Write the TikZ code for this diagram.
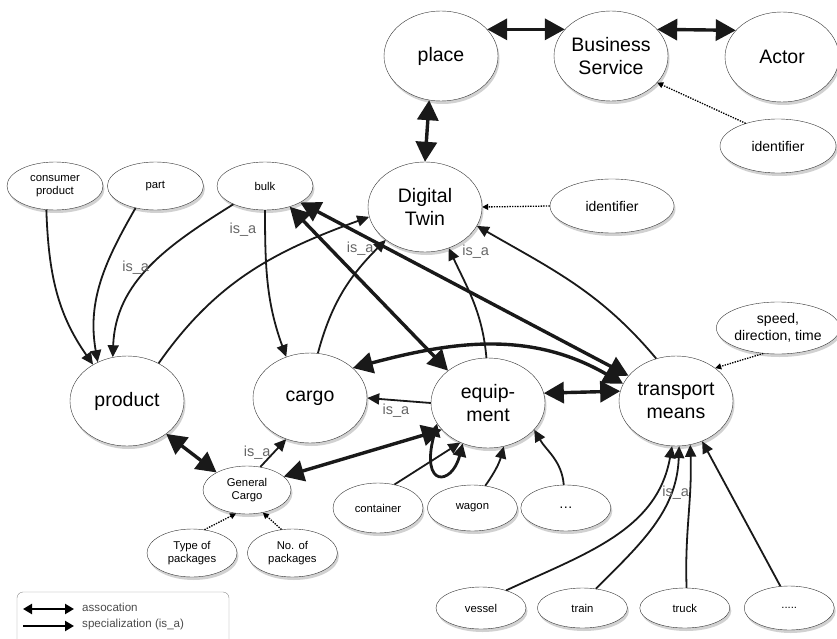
\documentclass[tikz,border=0pt]{standalone}
\usepackage{fontspec}
\setmainfont{Liberation Sans}
\usetikzlibrary{arrows.meta,positioning,shapes.geometric,shadows}

\begin{document}
\begin{tikzpicture}[x=1pt,y=-1pt,
  el/.style={ellipse,draw=black!80,fill=white,inner sep=0pt,align=center,
    drop shadow={shadow xshift=1.5pt,shadow yshift=-3pt,opacity=.3,fill=black!60}},
  big/.style={el,minimum width=114pt,minimum height=90pt,font=\fontsize{19.5}{23}\selectfont},
  att/.style={el,minimum width=116pt,minimum height=54pt,font=\fontsize{14}{16.5}\selectfont},
  sm/.style={el,minimum width=90pt,minimum height=48pt,font=\fontsize{11.3}{13.5}\selectfont},
  assoc/.style={{Triangle[length=20pt,width=21pt]}-{Triangle[length=20pt,width=21pt]},line width=3.4pt,black!90},
  isa/.style={-{Triangle[length=12pt,width=11pt]},line width=1.8pt,black!90},
  attr/.style={-{Triangle[length=6pt,width=6pt]},line width=1.3pt,dash pattern=on 1.4pt off 1.2pt},
  lbl/.style={font=\fontsize{14.5}{15}\selectfont,text=black!60,inner sep=1pt},
  legassoc/.style={{Triangle[length=9pt,width=10pt]}-{Triangle[length=9pt,width=10pt]},line width=2.4pt},
  legisa/.style={-{Triangle[length=9pt,width=10pt]},line width=2.4pt},
  legtxt/.style={font=\fontsize{11.6}{13}\selectfont,text=black!70,inner sep=0pt,anchor=west}]
  \useasboundingbox (0,0) rectangle (837,639);
  \node[big] (pl) at (441,56) {place};
  \node[big] (bs) at (611,56) {Business\\Service};
  \node[big] (act) at (782,57) {Actor};
  \node[att] (id2) at (778,146) {identifier};
  \node[big] (dt) at (425,207) {Digital\\Twin};
  \node[att,minimum width=124pt] (id1) at (612,206) {identifier};
  \node[sm,minimum width=96pt] (cp) at (55,186) {consumer\\product};
  \node[sm,minimum width=96pt,right=4pt of cp] (prt) {part};
  \node[sm,minimum width=96pt] (blk) at (265,186) {bulk};
  \node[big] (prd) at (127,401) {product};
  \node[big] (crg) at (310,398) {cargo};
  \node[big] (eqp) at (488,403) {equip-\\ment};
  \node[big] (tm) at (676,401) {transport\\means};
  \node[att,minimum height=52pt] (spd) at (778,328) {speed,\\direction, time};
  \node[sm,minimum width=88pt] (gc) at (247,490) {General\\Cargo};
  \node[sm] (top) at (192,553) {Type of\\packages};
  \node[sm,right=10pt of top] (nop) {No. of\\packages};
  \node[sm,minimum height=50pt] (cnt) at (378,508) {container};
  \node[sm,minimum height=46pt,right=4pt of cnt] (wag) {wagon};
  \node[sm,minimum height=46pt,right=3pt of wag,font=\fontsize{14}{16}\selectfont] (edt) {\dots};
  \node[sm,minimum height=42pt] (ves) at (481,608) {vessel};
  \node[sm,minimum height=40pt,right=11pt of ves] (trn) {train};
  \node[sm,minimum height=40pt,right=12pt of trn] (trk) {truck};
  \node[sm,minimum height=44pt,right=14pt of trk] (tdt) {.....};
  \draw[assoc] (pl.30) -- (bs.150);
  \draw[assoc] (bs.30) -- (act.150);
  \draw[assoc] (pl.255) -- (dt.north);
  \draw[attr] (id2.145) -- (bs.-30);
  \draw[attr] (id1.west) -- (dt.east);
  \draw[isa] (cp.250) to[out=-88,in=125] (prd.133);
  \draw[isa] (prt.228) to[out=-120,in=100] (prd.127);
  \draw[isa] (blk.-150) to[out=-148,in=88] node[lbl,pos=.5,left=-1pt] {is\_a} (prd.108);
  \draw[isa] (blk.south) to[out=-90,in=110] node[lbl,pos=.12,left=7pt] {is\_a} (crg.120);
  \draw[isa] (prd.50) to[out=55,in=-160] (dt.190);
  \draw[isa] (crg.80) to[out=75,in=-135] node[lbl,pos=.92,left=2pt] {is\_a} (dt.220);
  \draw[isa] (eqp.92) to[out=95,in=-65] node[lbl,pos=.97,right=10pt] {is\_a} (dt.-60);
  \draw[isa] (tm.115) to[out=130,in=-30] (dt.-20);
  \draw[assoc] (blk.-40) -- (eqp.141);
  \draw[assoc] (blk.-25) -- (tm.152);
  \draw[assoc] (crg.35) to[out=15,in=150] (tm.162);
  \draw[assoc] (eqp.10) -- (tm.170);
  \draw[isa] (eqp.west) -- node[lbl,below=2pt,xshift=-3pt] {is\_a} (crg.east);
  \draw[isa] (gc.60) -- node[lbl,left=1pt] {is\_a} (crg.-120);
  \draw[assoc] (prd.-40) -- (gc.150);
  \draw[assoc] (eqp.-150) -- (gc.20);
  \draw[assoc,{Triangle[length=13pt,width=13pt]}-{Triangle[length=13pt,width=13pt]},line width=2.8pt]
    (eqp.-158) .. controls (420,488) and (452,486) .. (eqp.-122);
  \draw[isa] (cnt.55) -- (eqp.-125);
  \draw[isa] (wag.60) to[bend right=10] (eqp.-70);
  \draw[isa] (edt.95) to[out=95,in=-60] (eqp.-30);
  \draw[isa] (ves.35) to[out=25,in=-100] (tm.-95);
  \draw[isa] (trn.55) to[out=45,in=-92] (tm.-86);
  \draw[isa] (trk.85) to[out=92,in=-88] node[lbl,pos=.68,left=-1pt] {is\_a} (tm.-72);
  \draw[isa] (tdt.112) -- (tm.-57);
  \draw[attr] (top.62) -- (gc.-115);
  \draw[attr] (nop.115) -- (gc.-55);
  \draw[attr] (spd.-120) -- (tm.40);
  \draw[black!45,rounded corners=6pt] (17,592) rectangle (229,650);
  \coordinate (la1) at (23,609);
  \coordinate (la2) at (74,609);
  \coordinate (ls1) at (23,626);
  \coordinate (ls2) at (74,626);
  \draw[legassoc] (la1) -- (la2);
  \draw[legisa] (ls1) -- (ls2);
  \node[legtxt] (lat) at (82,607) {assocation};
  \node[legtxt] (lst) at (82,624) {specialization (is\_a)};
\end{tikzpicture}
\end{document}
